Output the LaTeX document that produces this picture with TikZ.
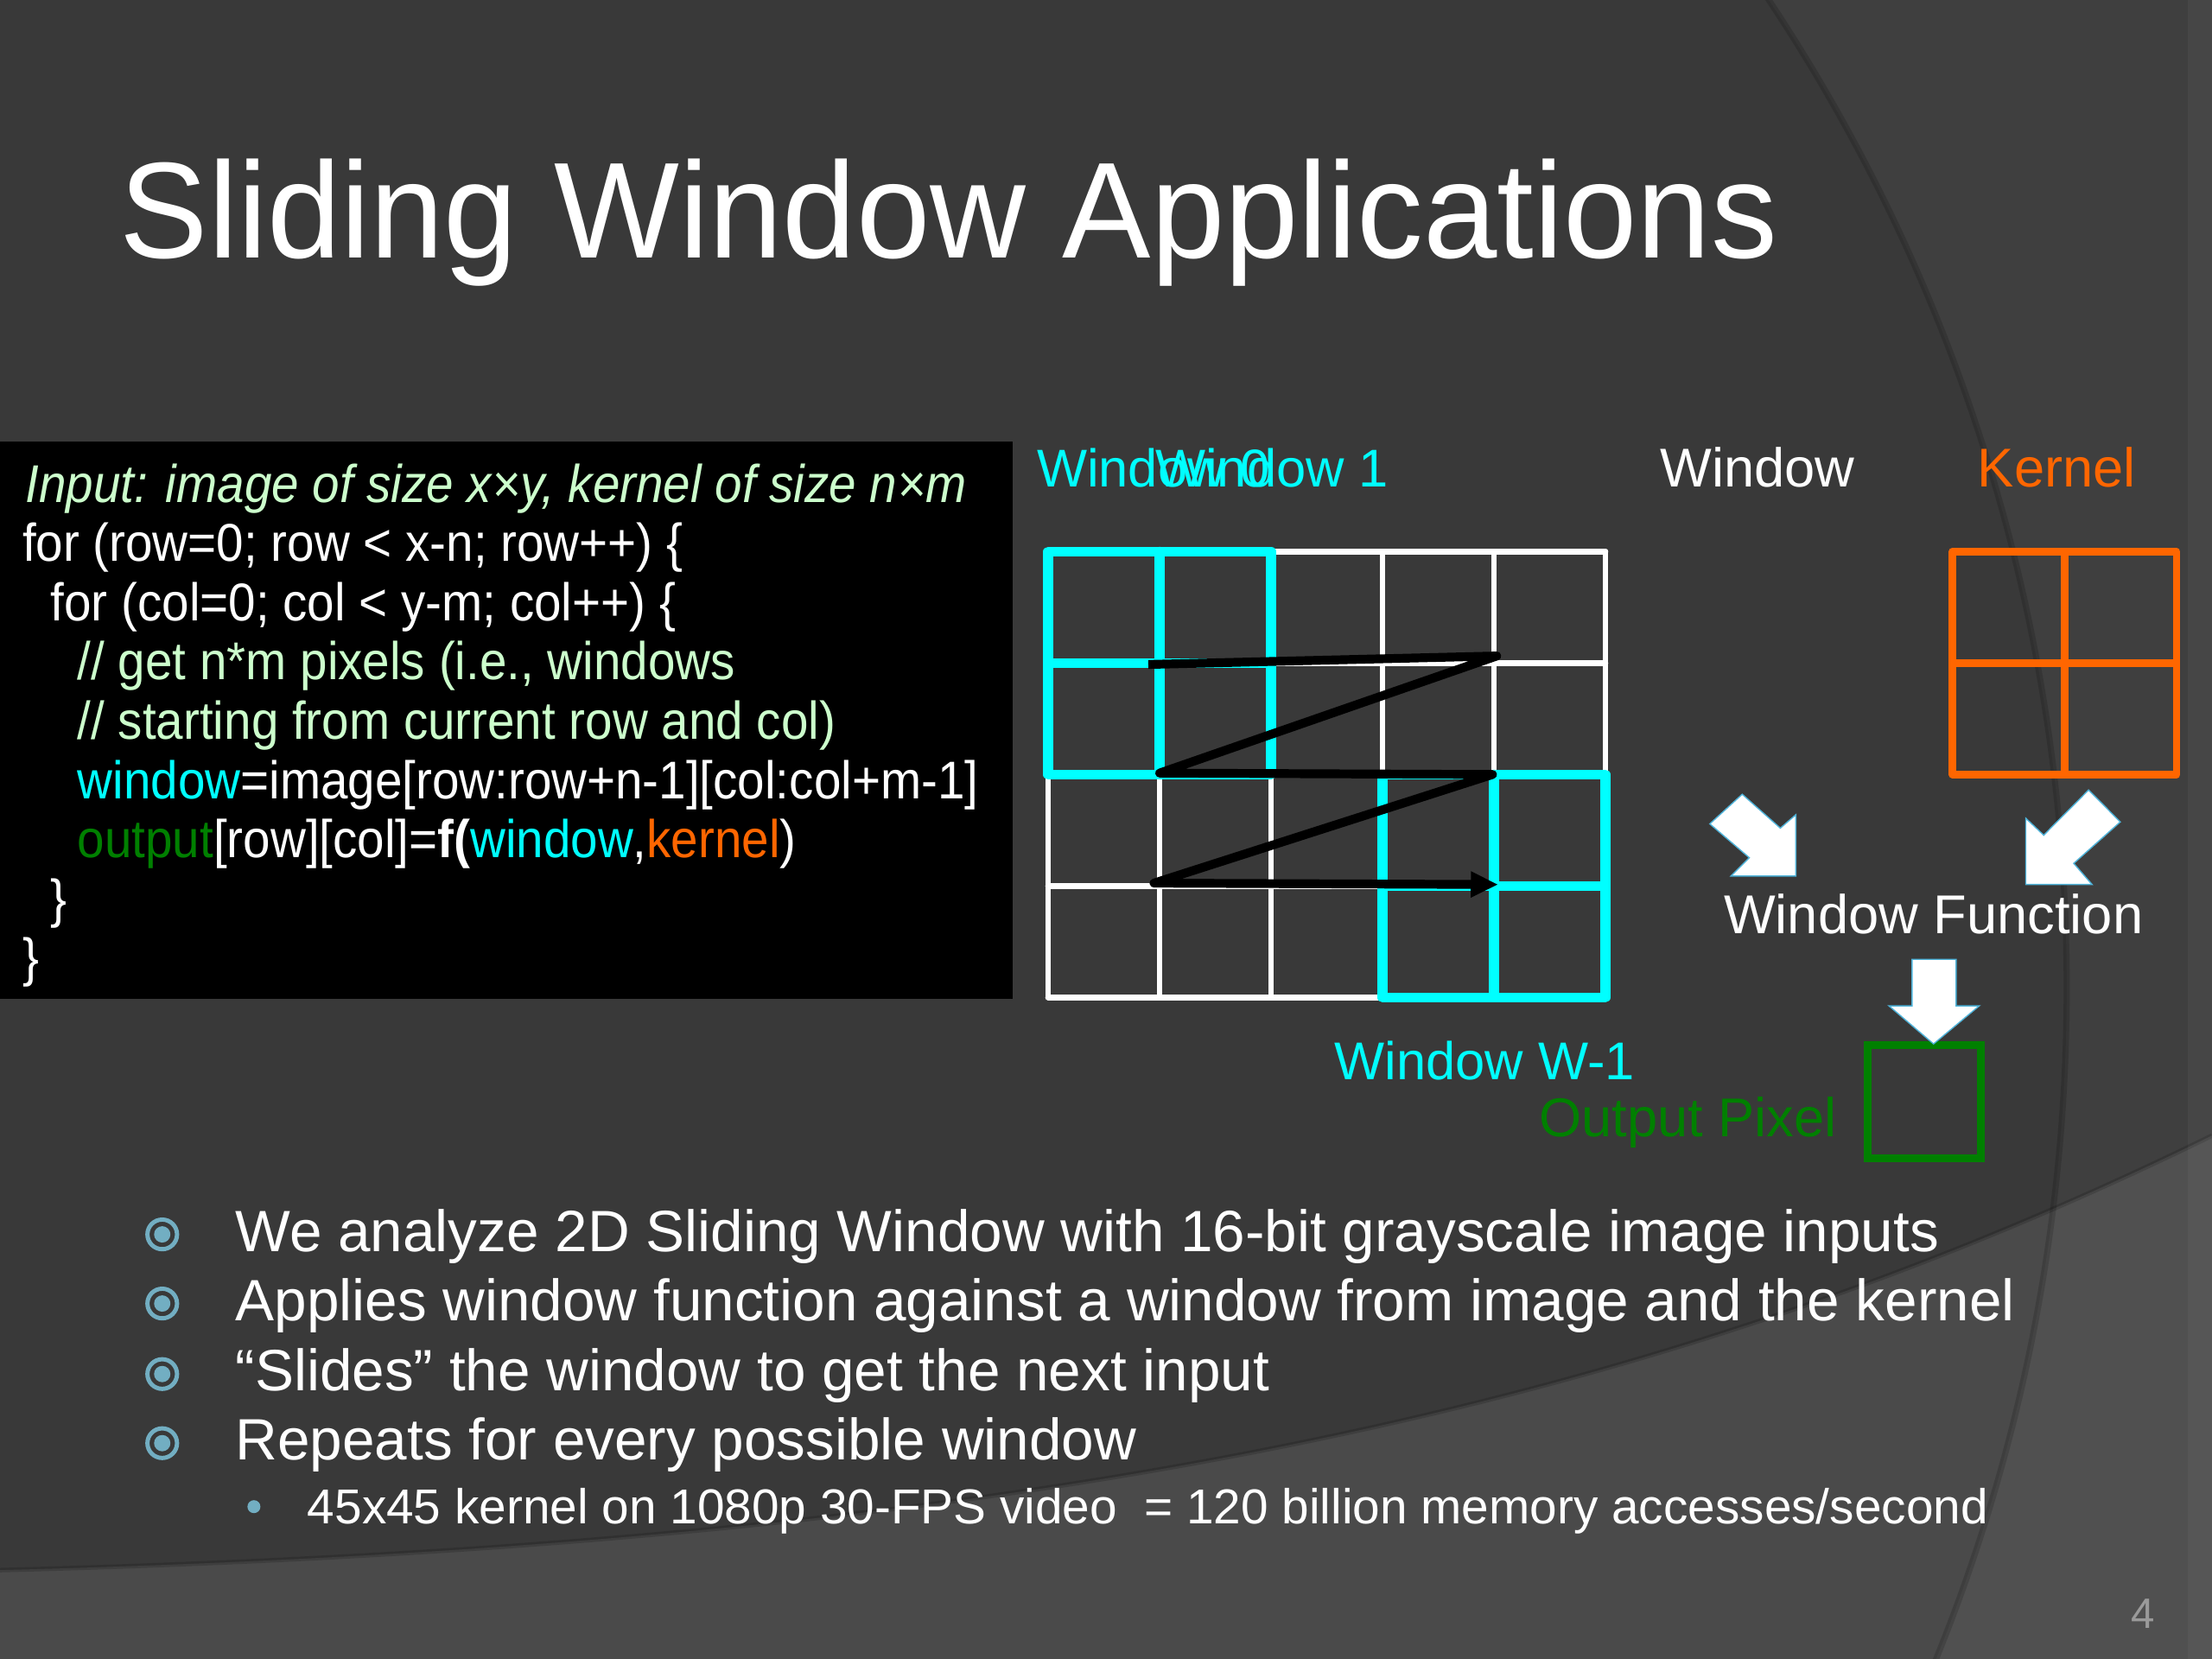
\documentclass[tikz,border=0pt]{standalone}
\usepackage{fontspec}
\setmainfont{Liberation Sans}
\newfontfamily\titlef[FakeStretch=0.97]{Liberation Sans}
\newfontfamily\codef[FakeStretch=0.92]{Liberation Sans}
\usetikzlibrary{arrows.meta}
\definecolor{bgA}{HTML}{393939}
\definecolor{bgB}{HTML}{3F3F3F}
\definecolor{bgC}{HTML}{4A4A4A}
\definecolor{bgD}{HTML}{505050}
\definecolor{cyanc}{HTML}{00FFFF}
\definecolor{orangec}{HTML}{FF6600}
\definecolor{greenc}{HTML}{008000}
\definecolor{commentc}{HTML}{CCFFCC}
\definecolor{bulletc}{HTML}{72AEC2}
\definecolor{arrowedge}{HTML}{4FB3D9}
\definecolor{pagenum}{HTML}{9A9A9A}
\tikzset{
  txt/.style={anchor=base west, inner sep=0pt, outer sep=0pt},
  codetxt/.style={txt, text=white, font=\codef\fontsize{17.5}{21}\selectfont},
  lbl/.style={txt, font=\fontsize{18}{21}\selectfont},
  bullettxt/.style={txt, text=white, font=\fontsize{19.2}{23}\selectfont},
  gridw/.style={draw=white, line width=1.9pt, line join=round, line cap=round},
  cyanl/.style={draw=cyanc, line width=3.2pt, line join=round, line cap=round},
  kern/.style={draw=orangec, line width=2.4pt, line join=round},
  outp/.style={draw=greenc, line width=2.6pt},
  zpath/.style={draw=black, line width=2.9pt, line join=round, -{Triangle[length=9pt,width=8pt]}},
  bigarrow/.style={fill=white, draw=arrowedge, line width=0.4pt, line join=miter},
}
\begin{document}
\begin{tikzpicture}[x=0.016327cm, y=-0.016327cm]
\useasboundingbox (0,0) rectangle (1568,1176);
% ---------------- background
\fill[bgA] (0,0) rectangle (1568,1176);
\begin{scope}
  \clip (0,0) rectangle (1568,1176);
  \fill[bgB, even odd rule] (0,0) rectangle (1568,1176) (200,700) circle (1265);
  \fill[bgC] (0,1113) .. controls (700,1095) and (1150,1010) .. (1568,805) -- (1568,1176) -- (0,1176) -- cycle;
  \begin{scope}
    \clip (0,1113) .. controls (700,1095) and (1150,1010) .. (1568,805) -- (1568,1176) -- (0,1176) -- cycle;
    \fill[bgD, even odd rule] (0,0) rectangle (1568,1176) (200,700) circle (1265);
  \end{scope}
  \draw[black, opacity=0.15, line width=2pt] (200,700) circle (1265);
  \draw[black, opacity=0.15, line width=1.5pt] (0,1113) .. controls (700,1095) and (1150,1010) .. (1568,805);
  \fill[white, opacity=0.04] (1551,0) rectangle (1568,1176);
\end{scope}
% ---------------- title
\node[txt, text=white, font=\titlef\fontsize{45}{54}\selectfont] (title) at (85,183) {Sliding Window Applications};
% ---------------- code box
\fill[black] (0,313) rectangle (718,708);
\node[codetxt, text=commentc] (c1) at (18,356) {\itshape Input: image of size x×y, kernel of size n×m};
\node[codetxt] (c2) at (16,398) {for (row=0; row < x-n; row++) \{};
\node[codetxt] (c3) at (36,440) {for (col=0; col < y-m; col++) \{};
\node[codetxt, text=commentc] (c4) at (55,482) {// get n*m pixels (i.e., windows};
\node[codetxt, text=commentc] (c5) at (55,524) {// starting from current row and col)};
\node[codetxt] (c6) at (55,566) {\textcolor{cyanc}{window}=image[row:row+n-1][col:col+m-1]};
\node[codetxt] (c7) at (55,608) {\textcolor{greenc}{output}[row][col]=\textbf{f(}\textcolor{cyanc}{window},\textcolor{orangec}{kernel})};
\node[codetxt] (c8) at (36,650) {\}};
\node[codetxt] (c9) at (16,692) {\}};
% ---------------- image grid
\foreach \i in {0,...,5} \draw[gridw] (743+79*\i,391) -- (743+79*\i,707);
\foreach \j in {0,...,4} \draw[gridw] (743,391+79*\j) -- (1138,391+79*\j);
% window 0
\draw[cyanl] (743,391) rectangle (901,549);
\draw[cyanl] (822,391) -- (822,549);
\draw[cyanl] (743,470) -- (901,470);
% window W-1
\draw[cyanl] (980,549) rectangle (1138,707);
\draw[cyanl] (1059,549) -- (1059,707);
\draw[cyanl] (980,628) -- (1138,628);
% sliding path
\coordinate (z1) at (814,471);
\coordinate (z2) at (1061,465);
\coordinate (z3) at (822,548);
\coordinate (z4) at (1058,549);
\coordinate (z5) at (818,626);
\coordinate (z6) at (1062,627);
\draw[zpath] (z1) -- (z2) -- (z3) -- (z4) -- (z5) -- (z6);
% labels
\node[lbl, text=cyanc, font=\fontsize{17.5}{21}\selectfont] (w0) at (735,345) {Window 0};
\node[lbl, text=cyanc, font=\fontsize{17.5}{21}\selectfont] (w1) at (819,345) {Window 1};
\node[lbl, text=cyanc, font=\fontsize{17.5}{21}\selectfont] (wl) at (946,765) {Window W-1};
\node[lbl, text=white] (wlab) at (1177,345) {Window};
\node[lbl, text=orangec] (klab) at (1402,345) {Kernel};
\node[lbl, text=white] (wf) at (1222,662) {Window Function};
\node[lbl, text=greenc] (oplab) at (1091,806) {Output Pixel};
% kernel
\draw[kern] (1384,391) rectangle (1543,549);
\draw[kern] (1463.5,391) -- (1463.5,549);
\draw[kern] (1384,470) -- (1543,470);
% output pixel
\draw[outp] (1324,741) rectangle (1404,821);
% block arrows
\draw[bigarrow] (1212,584) -- (1235,563) -- (1262,587) -- (1273,577.5) -- (1273,621) -- (1227,621) -- (1240,608) -- cycle;
\draw[bigarrow] (1480.5,560) -- (1503,582.6) -- (1470,612) -- (1483,627) -- (1436,627) -- (1436,580) -- (1448.7,592) -- cycle;
\draw[bigarrow] (1355.4,680) -- (1386.6,680) -- (1386.6,713) -- (1403,713) -- (1370.6,740) -- (1339,713) -- (1355.4,713) -- cycle;
% ---------------- bullets
\foreach \y in {887,936,986,1035} {
  \draw[bulletc, line width=1.4pt] (115,\y-12) circle (10.5);
  \fill[bulletc] (115,\y-12) circle (5.8);
}
\node[bullettxt] (b1) at (167,887) {We analyze 2D Sliding Window with 16-bit grayscale image inputs};
\node[bullettxt] (b2) at (167,936) {Applies window function against a window from image and the kernel};
\node[bullettxt] (b3) at (167,986) {“Slides” the window to get the next input};
\node[bullettxt] (b4) at (167,1035) {Repeats for every possible window};
\fill[bulletc] (180,1068) circle (4.6);
\node[txt, text=white, font=\fontsize{16.15}{19}\selectfont] (b5) at (218,1080) {45x45 kernel on 1080p 30-FPS video\ \ = 120 billion memory accesses/second};
% page number
\node[anchor=base, inner sep=0pt, text=pagenum, font=\fontsize{14}{16}\selectfont] (pg) at (1519,1154) {4};
\end{tikzpicture}
\end{document}
